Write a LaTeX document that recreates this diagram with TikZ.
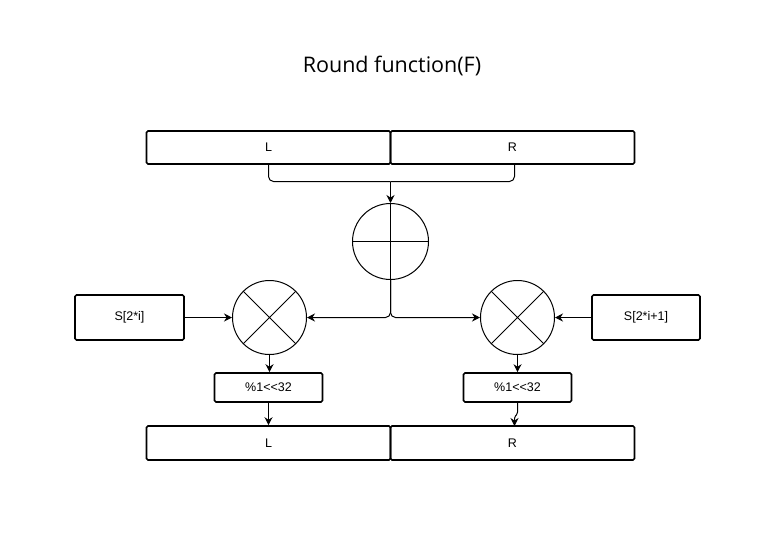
\documentclass[tikz,border=0pt]{standalone}
\usepackage{fontspec}
\setmainfont{Liberation Sans}
\newfontfamily\titlefont{Open Sans}
\usetikzlibrary{arrows.meta}
\begin{document}
\begin{tikzpicture}[x=1pt,y=-1pt,
  box/.style={draw,line width=1.6pt,rounded corners=1.5pt,inner sep=0pt,font=\fontsize{12.5}{14}\selectfont},
  op/.style={draw,circle,line width=1pt,inner sep=0pt,minimum size=74pt},
  conn/.style={line width=1pt,rounded corners=5pt},
  arr/.style={conn,-{Stealth[length=8pt,width=8pt]}}
]
\useasboundingbox (0,0) rectangle (761,542);
\node[font=\titlefont\fontsize{21.5}{25}\selectfont] (title) at (392,66) {Round function(F)};
% top boxes
\node[box,minimum width=244pt,minimum height=33pt] (L1) at (268.5,147.5) {L};
\node[box,minimum width=244pt,minimum height=33pt] (R1) at (512.5,147.5) {R};
% xor
\node[op,minimum size=76pt] (xor) at (390.5,241.5) {};
\draw[line width=1pt] (xor.north) -- (xor.south) (xor.west) -- (xor.east);
% multipliers
\node[op] (m1) at (269.5,317.5) {};
\node[op] (m2) at (517.5,317.5) {};
\draw[line width=1pt] (m1.north west) -- (m1.south east) (m1.north east) -- (m1.south west);
\draw[line width=1pt] (m2.north west) -- (m2.south east) (m2.north east) -- (m2.south west);
% S boxes
\node[box,minimum width=109pt,minimum height=45pt] (s1) at (129.5,317.5) {S[2*i]};
\node[box,minimum width=108pt,minimum height=45pt] (s2) at (646,317.5) {S[2*i+1]};
% mod boxes
\node[box,minimum width=108pt,minimum height=29pt] (p1) at (268.5,387.5) {\%1<{}<32};
\node[box,minimum width=108pt,minimum height=29pt] (p2) at (517.5,387.5) {\%1<{}<32};
% bottom boxes
\node[box,minimum width=244pt,minimum height=34pt] (L2) at (268.5,443) {L};
\node[box,minimum width=244pt,minimum height=34pt] (R2) at (512.5,443) {R};
% connectors
\coordinate (j) at (390.5,181.5);
\draw[conn] (L1.south) |- (j);
\draw[conn] ([xshift=2pt]R1.south) |- (j);
\draw[arr] (j) -- (xor.north);
\draw[arr] (xor.south) |- (m1.east);
\draw[arr] (xor.south) |- (m2.west);
\draw[arr] (s1.east) -- (m1.west);
\draw[arr] (s2.west) -- (m2.east);
\draw[arr] (m1.south) -- (p1.north -| m1.south);
\draw[arr] (m2.south) -- (p2.north);
\draw[arr] (p1.south) -- (L2.north -| p1.south);
\draw[arr,rounded corners=1.5pt] (p2.south) -- ++(0,11) -- ++(-3,3) -- (514.5,426);
\end{tikzpicture}
\end{document}
